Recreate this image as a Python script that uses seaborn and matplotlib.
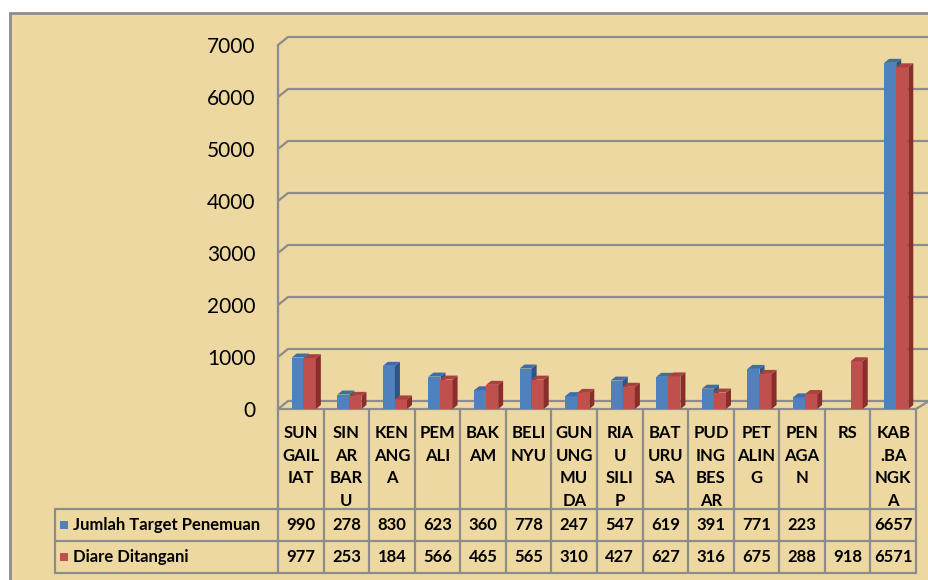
import numpy as np
import pandas as pd
import matplotlib
matplotlib.use("Agg")
import matplotlib.pyplot as plt
import seaborn as sns
from matplotlib.patches import Polygon, Rectangle

sns.set_theme(style="white")
plt.rcParams['font.family'] = ['Lato', 'DejaVu Sans']

categories = ['SUN\nGAIL\nIAT', 'SIN\nAR\nBAR\nU', 'KEN\nANG\nA', 'PEM\nALI', 'BAK\nAM',
              'BELI\nNYU', 'GUN\nUNG\nMU\nDA', 'RIA\nU\nSILI\nP', 'BAT\nURU\nSA',
              'PUD\nING\nBES\nAR', 'PET\nALIN\nG', 'PEN\nAGA\nN', 'RS', 'KAB\n.BA\nNGK\nA']
target = [990, 278, 830, 623, 360, 778, 247, 547, 619, 391, 771, 223, np.nan, 6657]
diare = [977, 253, 184, 566, 465, 565, 310, 427, 627, 316, 675, 288, 918, 6571]
series = ['Jumlah Target Penemuan', 'Diare Ditangani']
yticks = [0, 1000, 2000, 3000, 4000, 5000, 6000, 7000]

blue, red = '#4F81BD', '#C0504D'
blue_top, blue_side = '#3F6DA6', '#2E5485'
red_top, red_side = '#A9423F', '#8A2D2B'
grid_col = '#8C8C8C'
bg = '#EDD8A2'

W, H = 929, 580
fig = plt.figure(figsize=(W / 100, H / 100), dpi=100)
fig.patch.set_facecolor('white')

# overlay axes in pixel coordinates (origin top-left)
ov = fig.add_axes([0, 0, 1, 1], zorder=0)
ov.set_xlim(0, W)
ov.set_ylim(H, 0)
ov.axis('off')
ov.add_patch(Rectangle((10, 13), W, H, facecolor=bg, edgecolor=grid_col, lw=2, zorder=0))

# main chart axes
x_left, x_right, y_zero, y_top = 278, 916, 409, 45
ax = fig.add_axes([x_left / W, (H - y_zero) / H, (x_right - x_left) / W, (y_zero - y_top) / H], zorder=1)
ax.set_facecolor('none')

df = pd.DataFrame({
    'cat': categories * 2,
    'series': [series[0]] * len(categories) + [series[1]] * len(categories),
    'value': target + diare,
})
sns.barplot(data=df, x='cat', y='value', hue='series', order=categories, hue_order=series,
            palette=[blue, red], width=0.53, saturation=1, errorbar=None, legend=False, ax=ax)
ax.set_xlim(-0.5, len(categories) - 0.5)
ax.set_ylim(0, 7000)
ax.set_yticks(yticks)
ax.set_yticklabels([str(t) for t in yticks])
ax.set_xticks([])
ax.set_xlabel('')
ax.set_ylabel('')
ax.tick_params(axis='y', length=0, pad=16, labelsize=15, labelcolor='black')
for s in ax.spines.values():
    s.set_visible(False)


def to_px(x, y):
    dx, dy = ax.transData.transform((x, y))
    return dx, H - dy


# 3D look: shift fronts a bit and add top and side faces
depth_x, depth_y, shift = 5, 4, 3
faces = [(blue_top, blue_side), (red_top, red_side)]
for k, cont in enumerate(ax.containers):
    top_c, side_c = faces[k]
    for p in cont.patches:
        h = p.get_height()
        if not np.isfinite(h) or h <= 0:
            p.set_visible(False)
            continue
        x0, y0 = to_px(p.get_x(), 0)
        x1, y1 = to_px(p.get_x() + p.get_width(), h)
        x0 += shift
        x1 += shift
        p.set_visible(False)
        z = 2 + k
        ov.add_patch(Polygon([(x0, y0), (x1, y0), (x1, y1), (x0, y1)], closed=True,
                             facecolor=p.get_facecolor(), edgecolor='none', zorder=z))
        ov.add_patch(Polygon([(x1, y0), (x1 + depth_x, y0 - depth_y), (x1 + depth_x, y1 - depth_y), (x1, y1)],
                             closed=True, facecolor=side_c, edgecolor='none', zorder=z))
        ov.add_patch(Polygon([(x0, y1), (x1, y1), (x1 + depth_x, y1 - depth_y), (x0 + depth_x, y1 - depth_y)],
                             closed=True, facecolor=top_c, edgecolor='none', zorder=z))

# back wall gridlines with perspective offset
bx, by = 10, 8
xr, _ = to_px(len(categories) - 0.5, 0)
for t in yticks:
    gx, gy = to_px(-0.5, t)
    ov.plot([gx, gx + bx, W + 5], [gy, gy - by, gy - by], color=grid_col, lw=1.6, zorder=1)
fx, fy = to_px(-0.5, 0)
_, ty = to_px(-0.5, 7000)
ov.plot([fx, xr, xr + bx + 3], [fy, fy, fy - by], color=grid_col, lw=1.6, zorder=1)

# data table below the chart
row1, row2, row3 = 509, 541, 573
legend_x = 55
edges = [to_px(i - 0.5, 0)[0] for i in range(len(categories) + 1)]
ov.plot([fx, fx], [ty, row3], color=grid_col, lw=1.6, zorder=1)
for e in edges[1:]:
    ov.plot([e, e], [fy, row3], color=grid_col, lw=1.6, zorder=1)
for yy in (row1, row2, row3):
    ov.plot([legend_x, edges[-1]], [yy, yy], color=grid_col, lw=1.6, zorder=1)
ov.plot([legend_x, legend_x], [row1, row3], color=grid_col, lw=1.6, zorder=1)

for i, cat in enumerate(categories):
    cx = (edges[i] + edges[i + 1]) / 2
    for j, line in enumerate(cat.split('\n')):
        ov.text(cx, 433 + 22.6 * j, line, ha='center', va='center', fontsize=12,
                fontweight='bold', color='black')
    for val, yy in ((target[i], (row1 + row2) / 2), (diare[i], (row2 + row3) / 2)):
        if np.isfinite(val):
            ov.text(cx, yy, str(int(val)), ha='center', va='center', fontsize=12,
                    fontweight='bold', color='black')

for name, col, yy in ((series[0], blue, (row1 + row2) / 2), (series[1], red, (row2 + row3) / 2)):
    ov.add_patch(Rectangle((60, yy - 4.5), 8, 8, facecolor=col, edgecolor='none', zorder=3))
    ov.text(73, yy, name, ha='left', va='center', fontsize=12, fontweight='bold', color='black')

fig.savefig('out.png', dpi=100)
